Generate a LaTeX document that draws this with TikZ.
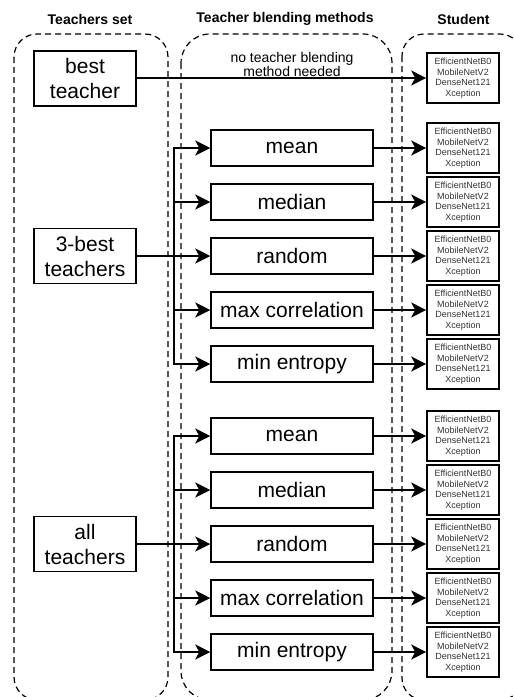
\documentclass[tikz,border=0pt]{standalone}
\usepackage{fontspec}
\setmainfont{Liberation Sans}
\usetikzlibrary{arrows.meta}

\begin{document}
\begin{tikzpicture}[x=1pt, y=-1pt,
  group/.style={draw, line width=1.2pt, dash pattern=on 6pt off 4pt},
  header/.style={font=\fontsize{14}{16}\selectfont\bfseries},
  teacher/.style={draw, line width=1.5pt, minimum width=102pt, minimum height=55pt,
    inner sep=0pt, align=center, font=\fontsize{21}{25}\selectfont},
  method/.style={draw, line width=1.5pt, minimum width=162pt, minimum height=36pt,
    inner sep=0pt, align=center, font=\fontsize{21}{25}\selectfont},
  student/.style={draw, line width=1.6pt, minimum width=72pt, minimum height=50pt,
    inner sep=0pt, align=center, text=black!80, font=\fontsize{9}{10.6}\selectfont},
  link/.style={line width=1.6pt, -{Stealth[length=15pt, width=15pt, inset=4pt]}},
  wire/.style={line width=1.6pt}]

\useasboundingbox (0,0) rectangle (514,697);
\clip (0,0) rectangle (514,697);

% column frames
\draw[group, rounded corners=23pt] (14,34) rectangle (168,700);
\draw[group, rounded corners=29pt] (181,34) rectangle (392,700);
\draw[group, rounded corners=22pt] (402,34) rectangle (522,700);

% column titles
\node[header] (h1) at (90,19) {Teachers set};
\node[header] (h2) at (285,19) {Teacher blending methods};
\node[header] (h3) at (463.5,19) {Student};

\newcommand{\nets}{EfficientNetB0\\MobileNetV2\\DenseNet121\\Xception}

% teachers
\node[teacher] (best) at (85,78.5) {best\\teacher};
\node[teacher] (tb3) at (85,256) {3-best\\teachers};
\node[teacher] (tall) at (85,544) {all\\teachers};

% direct path for the single best teacher
\node[student] (s0) at (463,78) {\nets};
\draw[link] (best.east |- s0.west) -- (s0.west);
\node[anchor=south, inner sep=0pt, align=center,
  font=\fontsize{14}{12.5}\selectfont] (note) at (292,76.5)
  {no teacher blending\\method needed};

% blending methods for the 3-best teachers
\foreach \name/\lab/\y in {a/mean/148, b/median/202, c/random/256,
    d/max correlation/310, e/min entropy/364}{
  \node[method] (m3\name) at (292,\y) {\lab};
  \node[student] (s3\name) at (463,\y) {\nets};
  \draw[link] (m3\name.east) -- (s3\name.west);
}
\coordinate (j3) at (174,256);
\draw[link] (tb3.east) -- (m3c.west);
\foreach \name in {a,b,d,e}{
  \draw[link] (j3) |- (m3\name.west);
}

% blending methods for all teachers
\foreach \name/\lab/\y in {a/mean/436, b/median/490, c/random/544,
    d/max correlation/598, e/min entropy/652}{
  \node[method] (ma\name) at (292,\y) {\lab};
  \node[student] (sa\name) at (463,\y) {\nets};
  \draw[link] (ma\name.east) -- (sa\name.west);
}
\coordinate (ja) at (174,544);
\draw[link] (tall.east) -- (mac.west);
\foreach \name in {a,b,d,e}{
  \draw[link] (ja) |- (ma\name.west);
}

\end{tikzpicture}
\end{document}
